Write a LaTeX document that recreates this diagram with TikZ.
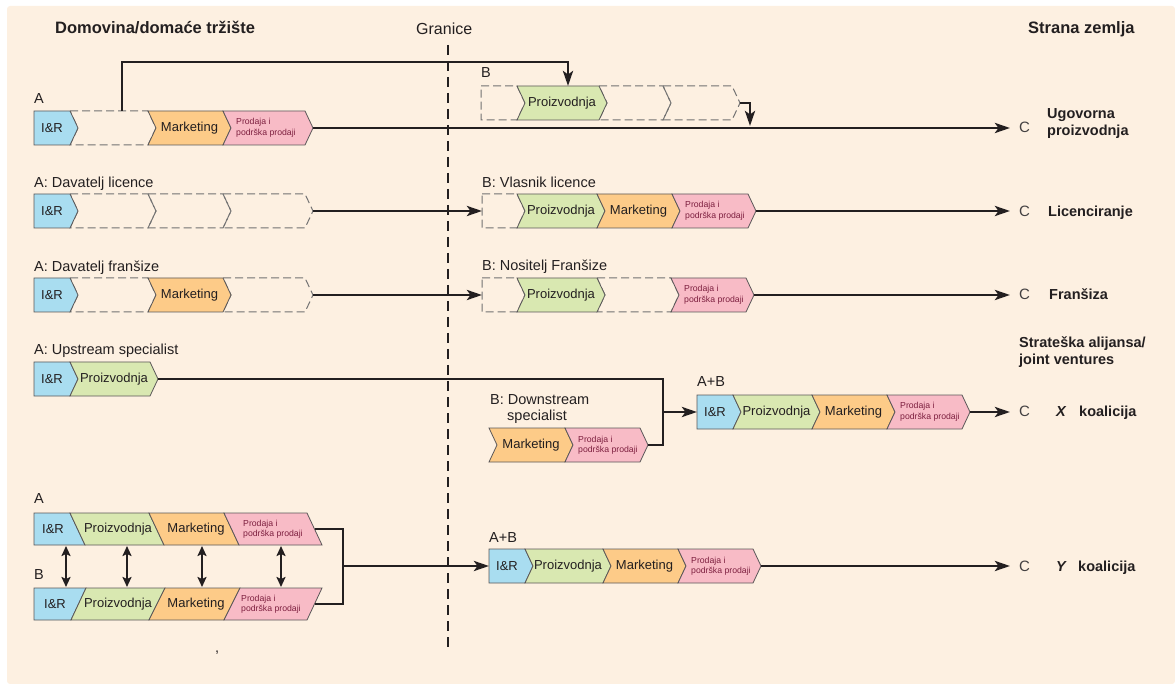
\documentclass[tikz,border=0pt]{standalone}
\usepackage{fontspec}
\setmainfont{Liberation Sans}
\usetikzlibrary{arrows.meta}
\definecolor{cream}{HTML}{FDF0E1}
\definecolor{irblue}{HTML}{A9DDF0}
\definecolor{prgreen}{HTML}{D9E8B1}
\definecolor{mkorange}{HTML}{FDCB88}
\definecolor{pdpink}{HTML}{F8BBC6}
\definecolor{ink}{HTML}{231F20}
\definecolor{maroonink}{HTML}{7D1F3F}
\definecolor{hid}{HTML}{727272}
\tikzset{
  segsolid/.style={draw=ink!75, line width=0.8pt},
  seghidden/.style={draw=hid, line width=1pt, dash pattern=on 8pt off 4pt},
  segtext/.style={font=\fontsize{13}{15}\selectfont, text=ink, inner sep=0pt},
  pinktext/.style={font=\fontsize{8.7}{10.5}\selectfont, text=maroonink, align=left, inner sep=0pt},
  lbl/.style={font=\fontsize{14.5}{17}\selectfont, text=ink, anchor=base west, inner sep=0pt},
  clbl/.style={font=\fontsize{15}{17}\selectfont, text=ink!85, anchor=base west, inner sep=0pt},
  hdr/.style={font=\bfseries\fontsize{16.5}{19}\selectfont, text=ink, anchor=base west, inner sep=0pt},
  rlbl/.style={font=\bfseries\fontsize{14.5}{17}\selectfont, text=ink, anchor=base west, inner sep=0pt},
  conn/.style={draw=ink, line width=2.9pt},
  arr/.style={conn, -{Stealth[length=15pt,width=10pt,inset=3.5pt]}},
  dbl/.style={conn, {Stealth[length=10pt,width=9pt,inset=2pt]}-{Stealth[length=10pt,width=9pt,inset=2pt]}},
}
% chevron segment with centred text: name, xl, xr, yc, fill, notch, text
\newcommand{\chevseg}[7]{%
  \draw[segsolid, fill=#5] ({#2},{#4-17}) -- ({#3},{#4-17}) -- ({#3+8},{#4}) -- ({#3},{#4+17}) -- ({#2},{#4+17}) -- ({#2+#6},{#4}) -- cycle;
  \node[segtext] (#1) at ({(#2+#3)/2+#6/2},{#4}) {#7};}
% hidden (dashed) chevron: xl, xr, yc, notch
\newcommand{\chevhid}[4]{%
  \draw[seghidden] ({#1},{#3-17}) -- ({#2},{#3-17}) -- ({#2+8},{#3}) -- ({#2},{#3+17}) -- ({#1},{#3+17}) -- ({#1+#4},{#3}) -- cycle;}
% pink sales chevron: name, xl, xr, yc
\newcommand{\chevpink}[4]{%
  \draw[segsolid, fill=pdpink] ({#2},{#4-17}) -- ({#3},{#4-17}) -- ({#3+8},{#4}) -- ({#3},{#4+17}) -- ({#2},{#4+17}) -- ({#2+8},{#4}) -- cycle;
  \node[pinktext, anchor=west] (#1) at ({#2+13},{#4}) {Prodaja i\\podrška prodaji};}
% parallelogram: xtl, xtr, xbl, xbr, yc, fill
\newcommand{\pshape}[6]{%
  \draw[segsolid, fill=#6] ({#1},{#5-16}) -- ({#2},{#5-16}) -- ({#4},{#5+16}) -- ({#3},{#5+16}) -- cycle;}
\begin{document}
\begin{tikzpicture}[x=1pt,y=-1pt]
\useasboundingbox (0,0) rectangle (1175,684);
\fill[cream, rounded corners=3pt] (7,6) rectangle (1175,684);

% headers
\node[hdr] (hdom) at (55,34) {Domovina/domaće tržište};
\node[font=\fontsize{16}{19}\selectfont, text=ink, anchor=base west, inner sep=0pt] (hgr) at (416,35) {Granice};
\node[hdr] (hstr) at (1028,34) {Strana zemlja};

% border
\coordinate (bt) at (448,45);
\coordinate (bb) at (448,648);
\draw[ink, line width=2.8pt, dash pattern=on 10pt off 6pt] (bt) -- (bb);

% ---------- row 1: contract manufacturing ----------
\node[lbl] (la1) at (34,104) {A};
\chevhid{70}{148}{128}{8}
\chevseg{a1ir}{34}{70}{128}{irblue}{0}{I\&R}
\chevseg{a1mk}{148}{223}{128}{mkorange}{8}{Marketing}
\chevpink{a1pd}{223}{305}{128}
\node[lbl] (lb1) at (481,78) {B};
\chevhid{481}{517}{103}{0}
\chevhid{599}{663}{103}{8}
\chevhid{663}{732}{103}{8}
\chevseg{b1pr}{517}{599}{103}{prgreen}{8}{Proizvodnja}
\coordinate (a1up) at (122,111);
\coordinate (b1in) at (568,86);
\coordinate (a1end) at (313,128);
\coordinate (c1in) at (1010,128);
\coordinate (b1end) at (740,103);
\coordinate (b1drop) at (750,126);
\draw[arr] (a1up) -- ++(0,-49) -| (b1in);
\draw[arr] (a1end) -- (c1in);
\draw[arr] (b1end) -| (b1drop);
\node[clbl] (c1) at (1019,133) {C};
\node[rlbl] (ugo1) at (1047,119) {Ugovorna};
\node[rlbl] (ugo2) at (1047,136) {proizvodnja};

% ---------- row 2: licensing ----------
\node[lbl] (la2) at (34,188) {A: Davatelj licence};
\chevhid{70}{148}{211}{8}
\chevhid{148}{223}{211}{8}
\chevhid{223}{305}{211}{8}
\chevseg{a2ir}{34}{70}{211}{irblue}{0}{I\&R}
\node[lbl] (lb2) at (482,188) {B: Vlasnik licence};
\chevhid{482}{517}{211}{0}
\chevseg{b2pr}{517}{597}{211}{prgreen}{8}{Proizvodnja}
\chevseg{b2mk}{597}{672}{211}{mkorange}{8}{Marketing}
\chevpink{b2pd}{672}{748}{211}
\coordinate (a2end) at (313,211);
\coordinate (b2in) at (482,211);
\coordinate (b2end) at (756,211);
\coordinate (c2in) at (1010,211);
\draw[arr] (a2end) -- (b2in);
\draw[arr] (b2end) -- (c2in);
\node[clbl] (c2) at (1019,217) {C};
\node[rlbl] (lic) at (1048,217) {Licenciranje};

% ---------- row 3: franchising ----------
\node[lbl] (la3) at (34,272) {A: Davatelj franšize};
\chevhid{70}{148}{295}{8}
\chevhid{223}{305}{295}{8}
\chevseg{a3ir}{34}{70}{295}{irblue}{0}{I\&R}
\chevseg{a3mk}{148}{223}{295}{mkorange}{8}{Marketing}
\node[lbl] (lb3) at (482,271) {B: Nositelj Franšize};
\chevhid{482}{517}{295}{0}
\chevhid{597}{671}{295}{8}
\chevseg{b3pr}{517}{597}{295}{prgreen}{8}{Proizvodnja}
\chevpink{b3pd}{671}{746}{295}
\coordinate (a3end) at (313,295);
\coordinate (b3in) at (482,295);
\coordinate (b3end) at (754,295);
\coordinate (c3in) at (1010,295);
\draw[arr] (a3end) -- (b3in);
\draw[arr] (b3end) -- (c3in);
\node[clbl] (c3) at (1019,300) {C};
\node[rlbl] (fra) at (1049,300) {Franšiza};

% ---------- row 4: strategic alliance X ----------
\node[rlbl] (sa1) at (1019,348) {Strateška alijansa/};
\node[rlbl] (sa2) at (1019,365) {joint ventures};
\node[lbl] (la4) at (34,355) {A: Upstream specialist};
\chevseg{a4ir}{34}{70}{379}{irblue}{0}{I\&R}
\chevseg{a4pr}{70}{150}{379}{prgreen}{8}{Proizvodnja}
\node[lbl] (lb4a) at (490,404) {B: Downstream};
\node[lbl] (lb4b) at (507,420) {specialist};
\chevseg{b4mk}{489}{565}{445}{mkorange}{8}{Marketing}
\chevpink{b4pd}{565}{640}{445}
\node[lbl] (lab4) at (697,387) {A+B};
\chevseg{x4ir}{697}{733}{412}{irblue}{0}{I\&R}
\chevseg{x4pr}{733}{812}{412}{prgreen}{8}{Proizvodnja}
\chevseg{x4mk}{812}{887}{412}{mkorange}{8}{Marketing}
\chevpink{x4pd}{887}{962}{412}
\coordinate (a4end) at (158,379);
\coordinate (j4) at (663,412);
\coordinate (b4end) at (648,445);
\coordinate (x4in) at (697,412);
\coordinate (x4end) at (970,412);
\coordinate (c4in) at (1010,412);
\draw[conn] (a4end) -| (j4) |- (b4end);
\draw[arr] (j4) -- (x4in);
\draw[arr] (x4end) -- (c4in);
\node[clbl] (c4) at (1019,417) {C};
\node[rlbl] (xx) at (1056,417) {\itshape X};
\node[rlbl] (xk) at (1079,417) {koalicija};

% ---------- row 5: coalition Y ----------
\node[lbl] (la5) at (34,503) {A};
\pshape{34}{70}{34}{85}{529}{irblue}
\pshape{70}{149}{85}{164}{529}{prgreen}
\pshape{149}{224}{164}{239}{529}{mkorange}
\pshape{224}{307}{239}{322}{529}{pdpink}
\node[segtext] (a5ir) at (53,529) {I\&R};
\node[segtext] (a5pr) at (118,529) {Proizvodnja};
\node[segtext] (a5mk) at (196,529) {Marketing};
\node[pinktext, anchor=west] (a5pd) at (243,529) {Prodaja i\\podrška prodaji};
\node[lbl] (lb5) at (34,579) {B};
\pshape{34}{86}{34}{71}{604}{irblue}
\pshape{86}{165}{71}{149}{604}{prgreen}
\pshape{165}{240}{149}{224}{604}{mkorange}
\pshape{240}{322}{224}{307}{604}{pdpink}
\node[segtext] (b5ir) at (55,604) {I\&R};
\node[segtext] (b5pr) at (118,604) {Proizvodnja};
\node[segtext] (b5mk) at (196,604) {Marketing};
\node[pinktext, anchor=west] (b5pd) at (241,604) {Prodaja i\\podrška prodaji};
\foreach \i/\x in {1/66,2/127,3/202,4/281}{
  \coordinate (up\i) at (\x,546);
  \coordinate (dn\i) at (\x,587);
  \draw[dbl] (up\i) -- (dn\i);
}
\node[lbl] (lab5) at (489,542) {A+B};
\chevseg{y5ir}{489}{525}{566}{irblue}{0}{I\&R}
\chevseg{y5pr}{525}{603}{566}{prgreen}{8}{Proizvodnja}
\chevseg{y5mk}{603}{678}{566}{mkorange}{8}{Marketing}
\chevpink{y5pd}{678}{753}{566}
\coordinate (a5end) at (315,529);
\coordinate (j5) at (343,566);
\coordinate (b5end) at (315,604);
\coordinate (y5in) at (489,566);
\coordinate (y5end) at (761,566);
\coordinate (c5in) at (1010,566);
\draw[conn] (a5end) -| (j5) |- (b5end);
\draw[arr] (j5) -- (y5in);
\draw[arr] (y5end) -- (c5in);
\node[clbl] (c5) at (1019,571) {C};
\node[rlbl] (yy) at (1056,571) {\itshape Y};
\node[rlbl] (yk) at (1078,571) {koalicija};

\node[lbl] (comma) at (215,652) {,};
\end{tikzpicture}
\end{document}
